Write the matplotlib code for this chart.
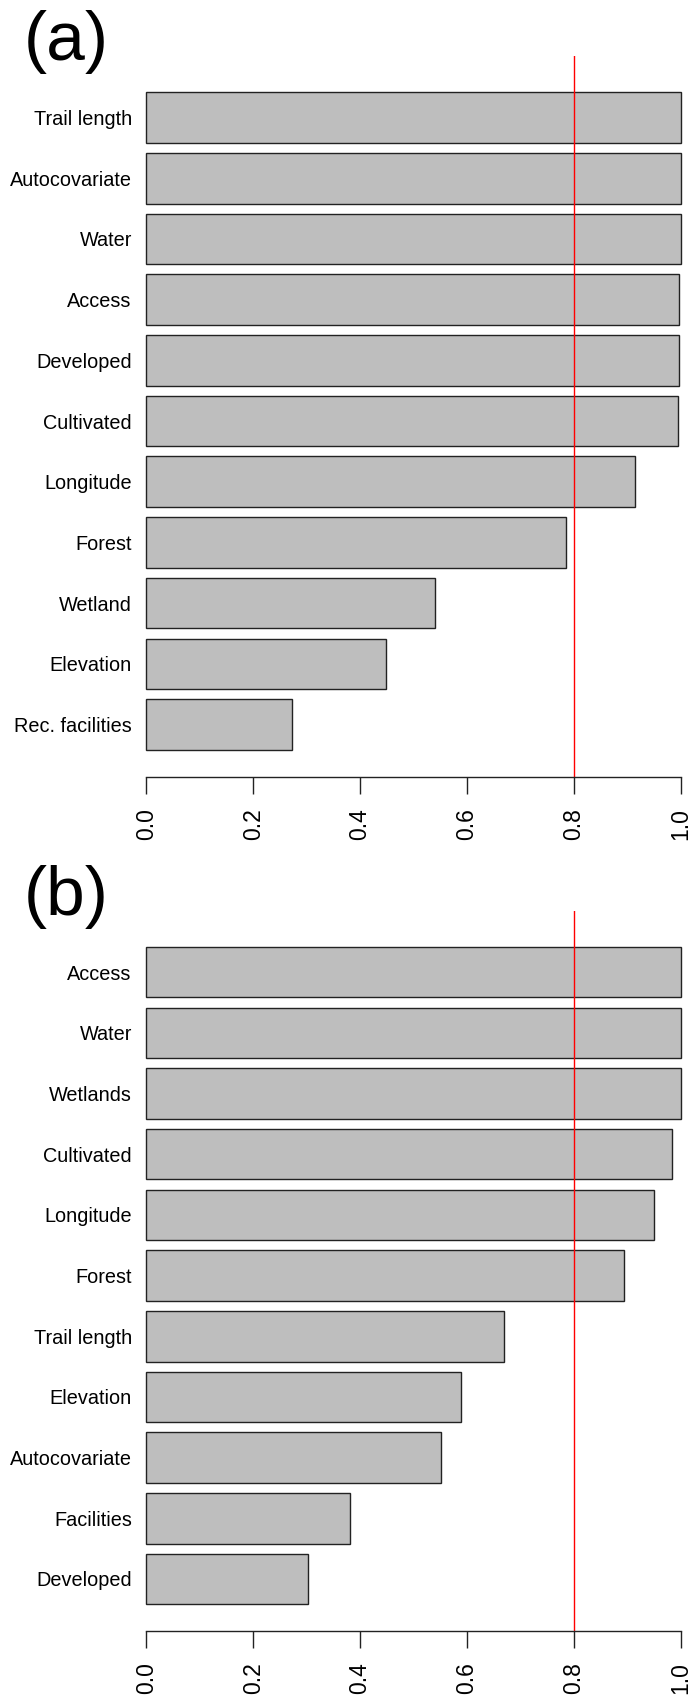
import matplotlib
matplotlib.use("Agg")
import matplotlib.pyplot as plt
import numpy as np

plt.rcParams['font.family'] = ['Liberation Sans', 'DejaVu Sans']

# variable importance, listed top to bottom
vars_a = ["Trail length", "Autocovariate", "Water", "Access", "Developed",
          "Cultivated", "Longitude", "Forest", "Wetland", "Elevation",
          "Rec. facilities"]
imp_a = [1.0, 1.0, 1.0, 0.998, 0.997, 0.995, 0.915, 0.785, 0.541, 0.449, 0.272]

vars_b = ["Access", "Water", "Wetlands", "Cultivated", "Longitude", "Forest",
          "Trail length", "Elevation", "Autocovariate", "Facilities",
          "Developed"]
imp_b = [1.0, 1.0, 1.0, 0.984, 0.950, 0.895, 0.669, 0.589, 0.552, 0.382, 0.302]

cutoff = 0.8
W, H = 692, 1702


def panel(ax, names, vals, tag, tag_y):
    n = len(names)
    # R style barplot spacing: width 1, gap 0.2
    pos = 0.7 + 1.2 * np.arange(n)[::-1]
    ax.barh(pos, vals, height=1.0, color="#bebebe", edgecolor="#222222",
            linewidth=1.0, clip_on=False)
    top = 1.2 * n + 0.2
    ax.set_ylim(-0.33, top + 0.51)
    ax.set_xlim(0, 1)
    ax.axvline(cutoff, color="red", linewidth=1.0)
    ax.set_yticks(pos)
    ax.set_yticklabels(names, fontsize=14.3)
    ax.tick_params(axis="y", length=0, pad=10.5)
    ticks = np.arange(0, 1.01, 0.2)
    ax.set_xticks(ticks)
    ax.set_xticklabels(["%.1f" % v for v in ticks], rotation=90, fontsize=16.5)
    ax.tick_params(axis="x", length=12, width=1.0, pad=10.5, color="#222222")
    for s in ["top", "right", "left"]:
        ax.spines[s].set_visible(False)
    ax.spines["bottom"].set_color("#222222")
    ax.spines["bottom"].set_linewidth(1.0)
    ax.figure.text(24 / W, 1 - tag_y / H, tag, fontsize=50,
                   ha="left", va="baseline")


fig = plt.figure(figsize=(W / 100, H / 100), dpi=100)
left = 146.4 / W
width = (680.5 - 146.4) / W
ax1 = fig.add_axes([left, 1 - 776.6 / H, width, (776.6 - 56.4) / H])
ax2 = fig.add_axes([left, 1 - 1631 / H, width, (1631 - 911) / H])

panel(ax1, vars_a, imp_a, "(a)", 60)
panel(ax2, vars_b, imp_b, "(b)", 914.6)

fig.savefig("out.png", dpi=100)
